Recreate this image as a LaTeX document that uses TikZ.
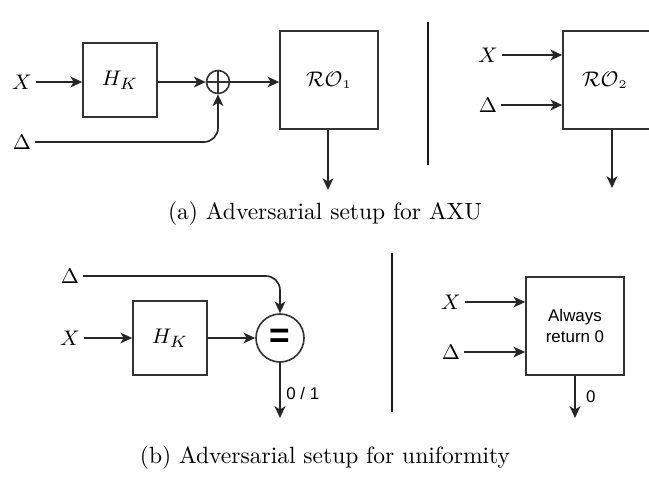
\documentclass[tikz,border=0pt]{standalone}
\usepackage{fontspec}
\setsansfont{Liberation Sans}
\usetikzlibrary{arrows.meta}
\def\u{0.4255pt}
\tikzset{
  arr/.style={draw=black!85, line width=0.7pt, -{Stealth[length=5pt, width=4.6pt, inset=1.4pt]}},
  wire/.style={draw=black!85, line width=0.7pt},
  blk/.style={draw=black!80, line width=0.7pt, minimum width={#1*\u}, minimum height={#1*\u}, inner sep=0pt},
  var/.style={font=\fontsize{9.4}{11}\selectfont, inner sep=1.5pt},
  sans/.style={font=\sffamily\fontsize{7.2}{8.6}\selectfont, align=center},
  sub/.style={font=\normalsize},
}
\begin{document}
\begin{tikzpicture}[x=\u, y=-\u]
  \useasboundingbox (0,0) rectangle (649,480);
  %% ── (a) left: X -> H_K -> xor -> RO_1 ──────────────────────
  \node[var] (xa) at (22,82) {$X$};
  \node[var] (da) at (22,142) {$\Delta$};
  \node[blk=74, var] (hka) at (120,80) {$H_K$};
  \node[circle, draw=black!80, line width=0.7pt, minimum size={23*\u}, inner sep=0pt,
        path picture={\draw[black!80, line width=0.7pt]
          (path picture bounding box.north) -- (path picture bounding box.south)
          (path picture bounding box.west) -- (path picture bounding box.east);}]
        (xor) at (218,82) {};
  \node[blk=98, var] (roa) at (329,80) {$\mathcal{RO}_{\scriptscriptstyle 1}$};
  \coordinate (outa) at (328,190);
  \draw[arr] (xa) -- (xa -| hka.west);
  \draw[arr] (hka.east |- xor) -- (xor);
  \draw[arr] (xor) -- (roa.west |- xor);
  \draw[arr, rounded corners=6pt] (da) -| (xor.south);
  \draw[arr] (outa |- roa.south) -- (outa);
  %% ── separator ──
  \draw[wire, black!90] (428,22) -- (428,165);
  %% ── (a) right: RO_2 ────────────────────────────────────────
  \node[var] (xb) at (488,55) {$X$};
  \node[var] (db) at (488,105) {$\Delta$};
  \node[blk=98, var] (rob) at (612,80) {\hspace*{-6pt}$\mathcal{RO}_{\scriptscriptstyle 2}$};
  \coordinate (outb) at (612,188);
  \draw[arr] (xb) -- (xb -| rob.west);
  \draw[arr] (db) -- (db -| rob.west);
  \draw[arr] (rob.south) -- (outb);
  \node[sub] (capa) at (325,214) {(a) Adversarial setup for AXU};
  %% ── (b) left: X -> H_K -> equality test ────────────────────
  \node[var] (dc) at (70,276) {$\Delta$};
  \node[var] (xc) at (70,338) {$X$};
  \node[blk=74, var] (hkc) at (170,338) {$H_K$};
  \node[circle, draw=black!80, line width=0.7pt, minimum size={48*\u}, inner sep=0pt,
        font=\sffamily\bfseries\fontsize{15}{15}\selectfont] (eq) at (280,338) {=};
  \coordinate (outc) at (280,418);
  \draw[arr] (xc) -- (hkc);
  \draw[arr] (hkc) -- (eq);
  \draw[arr, rounded corners=6pt] (dc) -| (eq.north);
  \draw[arr] (eq.south) -- (outc) node[sans, pos=0.55, right=-1pt] (oc) {0 / 1};
  %% ── separator ──
  \draw[wire, black!90] (392,253) -- (392,412);
  %% ── (b) right: constant adversary ──────────────────────────
  \node[var] (xd) at (451,302) {$X$};
  \node[var] (dd) at (451,352) {$\Delta$};
  \node[blk=98, sans] (ret) at (575,326) {Always\\return 0};
  \coordinate (outd) at (575,418);
  \draw[arr] (xd) -- (xd -| ret.west);
  \draw[arr] (dd) -- (dd -| ret.west);
  \draw[arr] (ret.south) -- (outd) node[sans, pos=0.5, right=1pt] (od) {0};
  \node[sub] (capb) at (325,458) {(b) Adversarial setup for uniformity};
\end{tikzpicture}
\end{document}
